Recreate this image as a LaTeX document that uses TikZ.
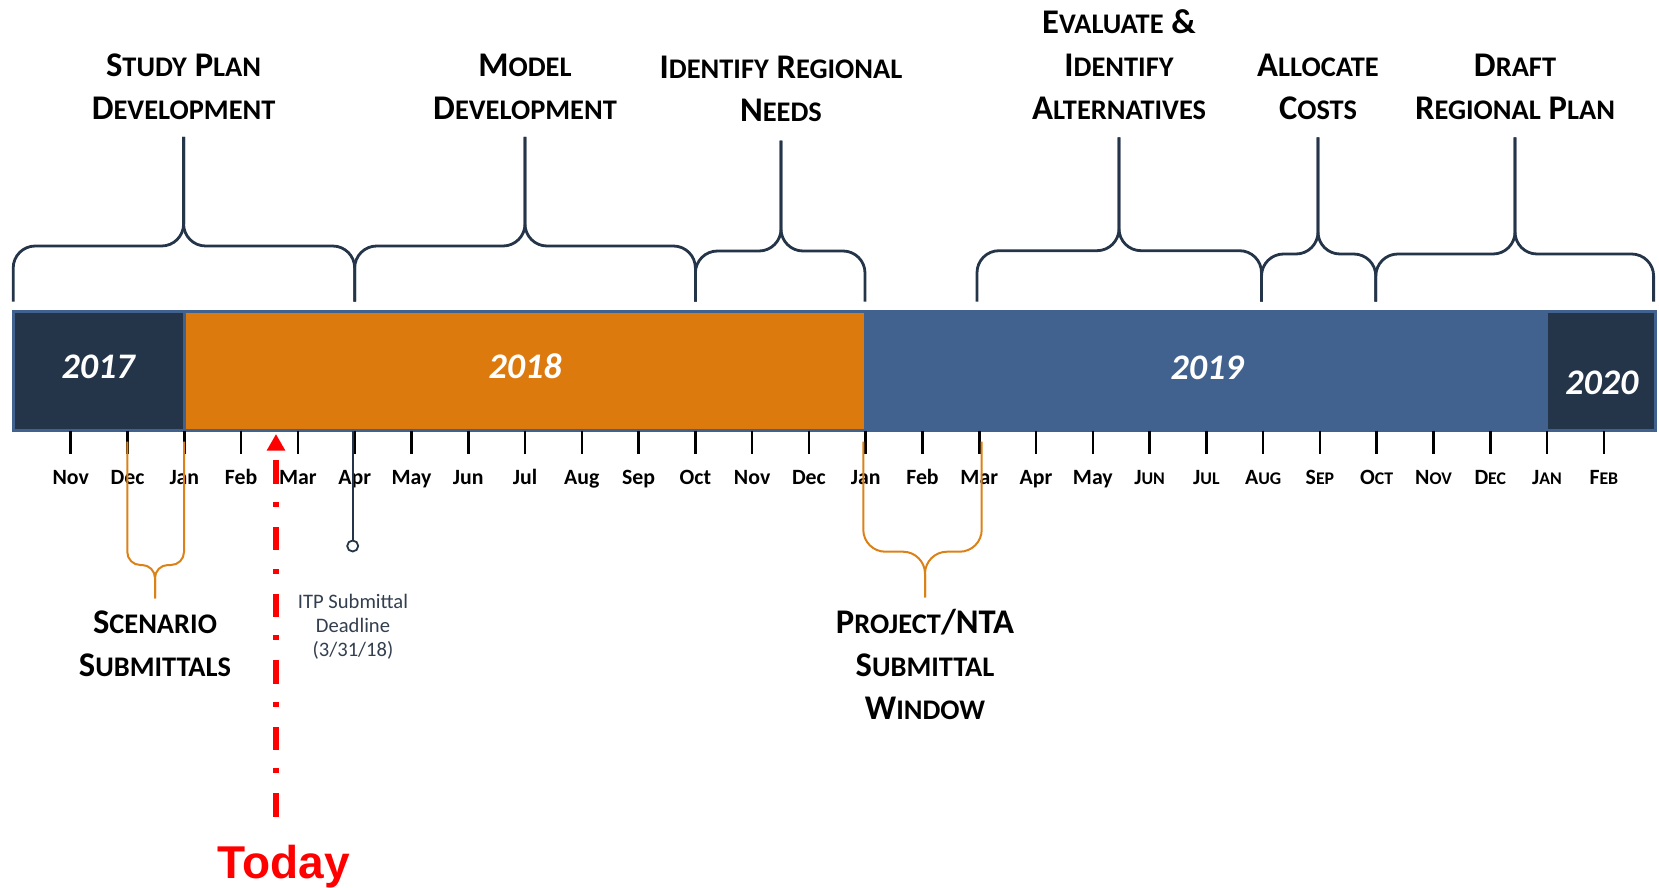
\documentclass[tikz,border=0pt]{standalone}
\usepackage{fontspec}
\setmainfont{Carlito}
\newfontfamily\todayfont{Liberation Sans}
\usetikzlibrary{arrows.meta}

\definecolor{navy}{HTML}{243449}
\definecolor{barblue}{HTML}{41628F}
\definecolor{barorange}{HTML}{DC7A0E}
\definecolor{winorange}{HTML}{DB8118}
\definecolor{notegray}{HTML}{333F4F}

% fake small caps: big first letter, smaller rest
\newcommand{\smc}[2]{#1{\fontsize{14.2}{21.5}\selectfont #2}}
\newcommand{\smm}[2]{#1{\fontsize{8.9}{12}\selectfont #2}}

\begin{document}
\begin{tikzpicture}[
    x = 0.5pt, y = -0.5pt, % one unit = one pixel, y downwards
    bracket/.style = {draw = navy, line width = 1.4pt, rounded corners = 11pt},
    window/.style = {draw = winorange, line width = 1pt},
    baredge/.style = {draw = barblue, line width = 1.5pt},
    monthtick/.style = {draw = black, line width = 1.3pt},
    monthlabel/.style = {anchor = base, inner sep = 0pt,
        font = \bfseries\fontsize{10.9}{13}\selectfont},
    year/.style = {text = white, inner sep = 0pt,
        font = \bfseries\itshape\fontsize{18}{20}\selectfont},
    phase/.style = {align = center, inner sep = 0pt,
        font = \bfseries\fontsize{17.3}{21.5}\selectfont}
    ]

    \useasboundingbox (0,0) rectangle (1659,888);

    % the year bar
    \fill[barblue] (13.2,311.7) rectangle (1655,430.7);
    \fill[navy] (13.2,311.7) rectangle (184.3,430.7);
    \fill[barorange] (184.3,313) rectangle (864,429.5);
    \fill[navy] (1547.5,313) rectangle (1654,429.5);
    \draw[baredge] (13.2,311.7) rectangle (1655,430.7);
    \draw[baredge] (184.3,311.7) -- (184.3,430.7);
    \draw[baredge, line width = 0.6pt] (1547.5,311.7) -- (1547.5,430.7);

    \node[year] (y2017) at (98.2,367.3) {2017};
    \node[year] (y2018) at (525,366.7) {2018};
    \node[year] (y2019) at (1207,368.3) {2019};
    \node[year] (y2020) at (1601.8,383.3) {2020};

    % months under the bar
    \foreach \mon [count=\i] in {Nov,Dec,Jan,Feb,Mar,Apr,May,Jun,Jul,Aug,Sep,Oct,
        Nov,Dec,Jan,Feb,Mar,Apr,May,\smm{J}{UN},\smm{J}{UL},\smm{A}{UG},
        \smm{S}{EP},\smm{O}{CT},\smm{N}{OV},\smm{D}{EC},\smm{J}{AN},\smm{F}{EB}}
    {
        \coordinate (m\i) at ({14+56.78*\i},430.7);
        \draw[monthtick] (m\i) -- ++(0,23.3);
        \path (m\i) ++(0,53.3) node[monthlabel] {\mon};
    }

    % phases above the bar
    \node[phase] (studyplan) at (183.6,86.5) {\smc{S}{TUDY} \smc{P}{LAN}\\\smc{D}{EVELOPMENT}};
    \node[phase] (modeldev) at (525,86.8) {\smc{M}{ODEL}\\\smc{D}{EVELOPMENT}};
    \node[phase] (regneeds) at (781,89.2) {\smc{I}{DENTIFY} \smc{R}{EGIONAL}\\\smc{N}{EEDS}};
    \node[phase] (evalalt) at (1119,65) {\smc{E}{VALUATE} \&\\\smc{I}{DENTIFY}\\\smc{A}{LTERNATIVES}};
    \node[phase] (alloccost) at (1318,86.5) {\smc{A}{LLOCATE}\\\smc{C}{OSTS}};
    \node[phase] (draftplan) at (1515,86.5) {\smc{D}{RAFT}\\\smc{R}{EGIONAL} \smc{P}{LAN}};

    \foreach \lbl/\xa/\xb/\yh/\ys in {studyplan/13.2/354.7/246/137,
        modeldev/354.7/695.4/246/137, regneeds/695.4/865/251/140.7,
        evalalt/977/1261.5/250.7/137.3, alloccost/1261.5/1375.8/254/137.3,
        draftplan/1375.8/1653.6/254/137.3}
    {
        \draw[bracket] (\xa,301.7) |- (\lbl.south |- 0,\yh) -- (\lbl.south |- 0,\ys);
        \draw[bracket] (\lbl.south |- 0,\ys) -- (\lbl.south |- 0,\yh) -| (\xb,301.7);
    }

    % windows below the bar
    \node[phase] (scenario) at (155,643.3) {\smc{S}{CENARIO}\\\smc{S}{UBMITTALS}};
    \node[phase] (projwindow) at (925,664.2) {\smc{P}{ROJECT}/NTA\\\smc{S}{UBMITTAL}\\\smc{W}{INDOW}};

    \draw[window, rounded corners = 6.5pt] (127.3,441.7) |- (scenario.north |- 0,565) -- (scenario.north |- 0,598.3);
    \draw[window, rounded corners = 6.5pt] (scenario.north |- 0,598.3) -- (scenario.north |- 0,565) -| (184,441.7);
    \draw[window, rounded corners = 11pt] (863.3,441.7) |- (projwindow.north |- 0,551.7) -- (projwindow.north |- 0,597.3);
    \draw[window, rounded corners = 11pt] (projwindow.north |- 0,597.3) -- (projwindow.north |- 0,551.7) -| (981.7,441.7);

    % ITP deadline
    \coordinate (itptop) at (352.7,430.7);
    \node[circle, draw = navy, fill = white, line width = 0.9pt,
        minimum size = 5.5pt, inner sep = 0pt] (itpdot) at (352.7,546) {};
    \draw[navy, line width = 1.1pt] (itptop) -- (itpdot);
    \node[align = center, inner sep = 0pt, text = notegray,
        font = \fontsize{10.3}{12}\selectfont] (itpnote) at (353,627)
        {ITP Submittal\\Deadline\\(3/31/18)};

    % today marker
    \coordinate (todaytip) at (276,434);
    \coordinate (todaytail) at (276,816.7);
    \draw[red, line width = 3pt, dash pattern = on 11.65pt off 10pt on 2.5pt off 9.15pt,
        -{Triangle[length = 8.35pt, width = 8.8pt]}] (todaytail) -- (todaytip);
    \node[anchor = base, inner sep = 0pt, text = red,
        font = \todayfont\bfseries\fontsize{23}{26}\selectfont] (today) at (284,878) {Today};
\end{tikzpicture}
\end{document}
